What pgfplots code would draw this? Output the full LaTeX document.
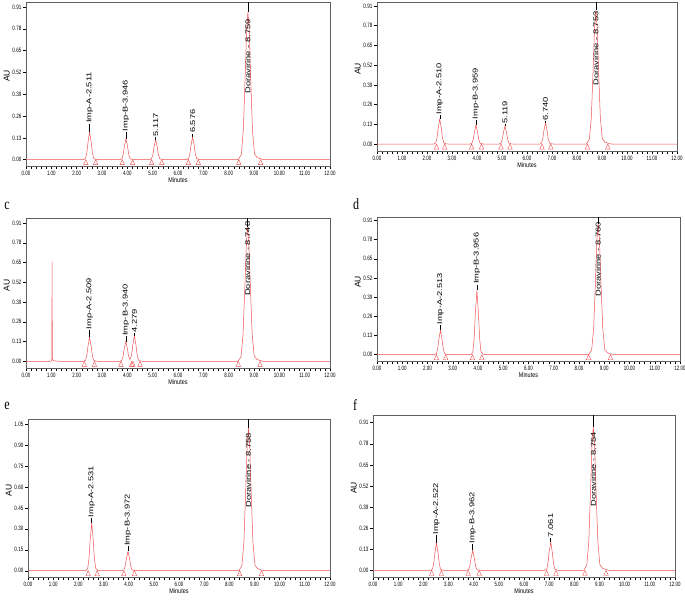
\documentclass[border=0pt]{standalone}
\usepackage{pgfplots}
\pgfplotsset{compat=1.18}
\usepackage{fontspec}
\setmainfont{Liberation Sans}
\newfontfamily\seriffont{Liberation Serif}
\definecolor{trace}{RGB}{238,80,80}
\newcommand{\pk}[4]{%
  \addplot[black,line width=0.45pt] coordinates {(#1,#2)(#1,#3)};
  \node[rotate=90,anchor=west,inner sep=0.6pt,font=\fontsize{7}{7}\selectfont] at (axis cs:#1,#3) {\scalebox{1.33}[1]{#4}};}
\pgfplotsset{chrom/.style={
  scale only axis, xmin=0, xmax=12,
  /pgf/number format/assume math mode=true,
  xtick={0,1,2,3,4,5,6,7,8,9,10,11,12}, minor x tick num=4,
  tick align=outside, xtick pos=left, ytick pos=left,
  axis line style={gray!75!black, line width=0.5pt},
  major tick length=3pt, minor tick length=2.6pt,
  every tick/.style={black, line width=0.4pt},
  ticklabel style={font=\fontsize{6.3}{6.3}\selectfont, inner sep=1.5pt},
  xticklabel={\scalebox{0.7}[1]{\pgfmathprintnumber[fixed,fixed zerofill,precision=2,assume math mode=true]{\tick}}},
  yticklabel={\scalebox{0.72}[1]{\pgfmathprintnumber[fixed,fixed zerofill,precision=2,assume math mode=true]{\tick}}},
  ytick={0,0.13,0.26,0.39,0.52,0.65,0.78,0.91},
  xlabel={\scalebox{0.8}[1]{Minutes}},
  xlabel style={font=\fontsize{6.8}{6.8}\selectfont, inner sep=1pt},
  ylabel={AU},
  ylabel style={font=\fontsize{8.5}{8.5}\selectfont, at={(ticklabel cs:0.55)}, inner sep=1pt},
  every axis plot/.append style={line width=0.5pt},
}}
\begin{document}
\begin{tikzpicture}
\useasboundingbox (0,0) rectangle (685pt,-603pt);
% ---------------- a
\begin{axis}[chrom, at={(26pt,-166pt)}, anchor=south west, width=304pt, height=164pt, ymin=-0.038, ymax=0.94]
\addplot[trace] coordinates {(0,0)
(2.271,0)(2.351,0.0074)(2.401,0.0404)(2.451,0.107)(2.511,0.165)(2.571,0.107)(2.621,0.0404)(2.671,0.0083)(2.751,0.0017)(2.831,0)
(3.706,0)(3.786,0.0056)(3.836,0.0306)(3.886,0.081)(3.946,0.125)(4.006,0.081)(4.056,0.0306)(4.106,0.0063)(4.186,0.0013)(4.266,0)
(4.877,0)(4.957,0.0054)(5.007,0.0294)(5.057,0.078)(5.117,0.12)(5.177,0.078)(5.227,0.0294)(5.277,0.006)(5.357,0.0012)(5.437,0)
(6.336,0)(6.416,0.0061)(6.466,0.0331)(6.516,0.0878)(6.576,0.135)(6.636,0.0878)(6.686,0.0331)(6.736,0.0068)(6.816,0.0014)(6.896,0)
(8.379,0)(8.499,0.0308)(8.579,0.176)(8.659,0.528)(8.709,0.774)(8.759,0.88)(8.809,0.774)(8.859,0.528)(8.939,0.176)(9.019,0.0352)(9.119,0.0132)(9.259,0.0053)(9.379,0)
(12,0)};
\addplot[only marks, mark=triangle, mark size=2.6pt, trace, mark options={line width=0.4pt, yscale=1.3}] coordinates {
(2.36,-0.02)(2.75,-0.02)(3.80,-0.02)(4.21,-0.02)(4.96,-0.02)(5.36,-0.02)(6.41,-0.02)(6.80,-0.02)(8.40,-0.02)(9.26,-0.02)};
\pk{2.511}{0.165}{0.215}{Imp-A-2.511}
\pk{3.946}{0.125}{0.165}{Imp-B-3.946}
\pk{5.117}{0.12}{0.135}{5.117}
\pk{6.576}{0.135}{0.155}{6.576}
\addplot[black,line width=0.45pt] coordinates {(8.759,0.88)(8.759,0.94)};
\node[rotate=90,anchor=west,inner sep=0.6pt,font=\fontsize{7}{7}\selectfont] at (axis cs:8.759,0.39) {\scalebox{1.33}[1]{Doravirine - 8.759}};
\end{axis}
% ---------------- b
\begin{axis}[chrom, at={(377pt,-151pt)}, anchor=south west, width=300pt, height=149pt, ymin=-0.046, ymax=0.936]
\addplot[trace] coordinates {(0,0)
(2.270,0)(2.350,0.0074)(2.400,0.0404)(2.450,0.107)(2.510,0.165)(2.570,0.107)(2.620,0.0404)(2.670,0.0083)(2.750,0.0017)(2.830,0)
(3.719,0)(3.799,0.0056)(3.849,0.0306)(3.899,0.081)(3.959,0.125)(4.019,0.081)(4.069,0.0306)(4.119,0.0063)(4.199,0.0013)(4.279,0)
(4.879,0)(4.959,0.0053)(5.009,0.0289)(5.059,0.0767)(5.119,0.118)(5.179,0.0767)(5.229,0.0289)(5.279,0.0059)(5.359,0.0012)(5.439,0)
(6.500,0)(6.580,0.0063)(6.630,0.0343)(6.680,0.091)(6.740,0.14)(6.800,0.091)(6.850,0.0343)(6.900,0.007)(6.980,0.0014)(7.060,0)
(8.373,0)(8.493,0.0308)(8.573,0.176)(8.653,0.528)(8.703,0.774)(8.753,0.88)(8.803,0.774)(8.853,0.528)(8.933,0.176)(9.013,0.0352)(9.113,0.0132)(9.253,0.0053)(9.373,0)
(12,0)};
\addplot[only marks, mark=triangle, mark size=2.6pt, trace, mark options={line width=0.4pt, yscale=1.3}] coordinates {
(2.38,-0.022)(2.71,-0.022)(3.78,-0.022)(4.18,-0.022)(4.96,-0.022)(5.32,-0.022)(6.60,-0.022)(6.95,-0.022)(8.42,-0.022)(9.23,-0.022)};
\pk{2.510}{0.165}{0.19}{Imp-A-2.510}
\pk{3.959}{0.125}{0.158}{Imp-B-3.959}
\pk{5.119}{0.118}{0.13}{5.119}
\pk{6.740}{0.14}{0.15}{6.740}
\addplot[black,line width=0.45pt] coordinates {(8.753,0.88)(8.753,0.936)};
\node[rotate=90,anchor=west,inner sep=0.6pt,font=\fontsize{7}{7}\selectfont] at (axis cs:8.753,0.38) {\scalebox{1.33}[1]{Doravirine - 8.753}};
\end{axis}
% ---------------- c
\begin{axis}[chrom, at={(26pt,-368pt)}, anchor=south west, width=304pt, height=150pt, ymin=-0.044, ymax=0.943]
\addplot[trace] coordinates {(0,0)
(0.99,0)(1.02,0.015)(1.03,0.655)(1.04,0.02)(1.07,0.005)(1.2,0.001)(1.4,0)
(2.269,0)(2.349,0.0071)(2.399,0.0385)(2.449,0.102)(2.509,0.157)(2.569,0.102)(2.619,0.0385)(2.669,0.0079)(2.749,0.0016)(2.829,0)
(3.700,0)(3.780,0.0059)(3.830,0.0319)(3.880,0.0845)(3.940,0.13)(4.000,0.0845)(4.050,0.033)(4.100,0.012)(4.140,0.028)(4.169,0.043)(4.219,0.109)(4.279,0.168)(4.339,0.109)(4.389,0.0412)(4.439,0.0084)(4.519,0.0017)(4.599,0)
(8.368,0)(8.488,0.0309)(8.568,0.177)(8.648,0.530)(8.698,0.778)(8.748,0.884)(8.798,0.778)(8.848,0.530)(8.928,0.177)(9.008,0.0354)(9.108,0.0133)(9.248,0.0053)(9.368,0)
(12,0)};
\addplot[only marks, mark=triangle, mark size=2.6pt, trace, mark options={line width=0.4pt, yscale=1.3}] coordinates {
(2.30,-0.022)(2.70,-0.022)(3.75,-0.022)(4.17,-0.022)(4.22,-0.022)(4.50,-0.022)(8.38,-0.022)(9.24,-0.022)};
\pk{2.509}{0.157}{0.207}{Imp-A-2.509}
\pk{3.940}{0.13}{0.164}{Imp-B-3.940}
\pk{4.279}{0.168}{0.186}{4.279}
\addplot[black,line width=0.45pt] coordinates {(8.748,0.884)(8.748,0.943)};
\node[rotate=90,anchor=west,inner sep=0.6pt,font=\fontsize{7}{7}\selectfont] at (axis cs:8.748,0.426) {\scalebox{1.33}[1]{Doravirine - 8.748}};
\end{axis}
% ---------------- d
\begin{axis}[chrom, at={(377pt,-361pt)}, anchor=south west, width=303pt, height=144pt, ymin=-0.043, ymax=0.933]
\addplot[trace] coordinates {(0,0)
(2.273,0)(2.353,0.0074)(2.403,0.0404)(2.453,0.107)(2.513,0.165)(2.573,0.107)(2.623,0.0404)(2.673,0.0083)(2.753,0.0017)(2.833,0)
(3.716,0)(3.796,0.0196)(3.846,0.107)(3.896,0.283)(3.956,0.436)(4.016,0.283)(4.066,0.107)(4.116,0.0218)(4.196,0.0044)(4.276,0)
(8.380,0)(8.500,0.031)(8.580,0.177)(8.660,0.532)(8.710,0.781)(8.760,0.887)(8.810,0.781)(8.860,0.532)(8.940,0.177)(9.020,0.0355)(9.120,0.0133)(9.260,0.0053)(9.380,0)
(12,0)};
\addplot[only marks, mark=triangle, mark size=2.6pt, trace, mark options={line width=0.4pt, yscale=1.3}] coordinates {
(2.35,-0.023)(2.72,-0.023)(3.78,-0.023)(4.15,-0.023)(8.38,-0.023)(9.25,-0.023)};
\pk{2.513}{0.165}{0.2}{Imp-A-2.513}
\pk{3.956}{0.436}{0.474}{Imp-B-3.956}
\addplot[black,line width=0.45pt] coordinates {(8.760,0.887)(8.760,0.933)};
\node[rotate=90,anchor=west,inner sep=0.6pt,font=\fontsize{7}{7}\selectfont] at (axis cs:8.760,0.39) {\scalebox{1.33}[1]{Doravirine - 8.760}};
\end{axis}
% ---------------- e
\begin{axis}[chrom, at={(28pt,-577pt)}, anchor=south west, width=302pt, height=158pt, ymin=-0.045, ymax=1.086,
  ytick={0,0.15,0.30,0.45,0.60,0.75,0.90,1.05}]
\addplot[trace] coordinates {(0,0)
(2.291,0)(2.371,0.0153)(2.421,0.0835)(2.471,0.222)(2.531,0.341)(2.591,0.222)(2.641,0.0835)(2.691,0.0171)(2.771,0.0034)(2.851,0)
(3.732,0)(3.812,0.0062)(3.862,0.0338)(3.912,0.0897)(3.972,0.138)(4.032,0.0897)(4.082,0.0338)(4.132,0.0069)(4.212,0.0014)(4.292,0)
(8.378,0)(8.498,0.0357)(8.578,0.204)(8.658,0.612)(8.708,0.898)(8.758,1.02)(8.808,0.898)(8.858,0.612)(8.938,0.204)(9.018,0.0408)(9.118,0.0153)(9.258,0.0061)(9.378,0)
(12,0)};
\addplot[only marks, mark=triangle, mark size=2.6pt, trace, mark options={line width=0.4pt, yscale=1.3}] coordinates {
(2.39,-0.024)(2.75,-0.024)(3.81,-0.024)(4.23,-0.024)(8.41,-0.024)(9.28,-0.024)};
\pk{2.531}{0.341}{0.377}{Imp-A-2.531}
\pk{3.972}{0.138}{0.174}{Imp-B-3.972}
\addplot[black,line width=0.45pt] coordinates {(8.758,1.02)(8.758,1.086)};
\node[rotate=90,anchor=west,inner sep=0.6pt,font=\fontsize{7}{7}\selectfont] at (axis cs:8.758,0.449) {\scalebox{1.33}[1]{Doravirine - 8.758}};
\end{axis}
% ---------------- f
\begin{axis}[chrom, at={(373pt,-577pt)}, anchor=south west, width=302pt, height=162pt, ymin=-0.041, ymax=0.957]
\addplot[trace] coordinates {(0,0)
(2.282,0)(2.362,0.0076)(2.412,0.0414)(2.462,0.110)(2.522,0.169)(2.582,0.110)(2.632,0.0414)(2.682,0.0085)(2.762,0.0017)(2.842,0)
(3.722,0)(3.802,0.0055)(3.852,0.0301)(3.902,0.080)(3.962,0.123)(4.022,0.080)(4.072,0.0301)(4.122,0.0062)(4.202,0.0012)(4.282,0)
(6.821,0)(6.901,0.0079)(6.951,0.0429)(7.001,0.114)(7.061,0.175)(7.121,0.114)(7.171,0.0429)(7.221,0.0088)(7.301,0.0018)(7.381,0)
(8.374,0)(8.494,0.031)(8.574,0.177)(8.654,0.531)(8.704,0.779)(8.754,0.885)(8.804,0.779)(8.854,0.531)(8.934,0.177)(9.014,0.0354)(9.114,0.0133)(9.254,0.0053)(9.374,0)
(12,0)};
\addplot[only marks, mark=triangle, mark size=2.6pt, trace, mark options={line width=0.4pt, yscale=1.3}] coordinates {
(2.33,-0.021)(2.72,-0.021)(3.78,-0.021)(4.22,-0.021)(6.90,-0.021)(7.27,-0.021)(8.42,-0.021)(9.26,-0.021)};
\pk{2.522}{0.169}{0.216}{Imp-A-2.522}
\pk{3.962}{0.123}{0.16}{Imp-B-3.962}
\pk{7.061}{0.175}{0.2}{7.061}
\addplot[black,line width=0.45pt] coordinates {(8.754,0.885)(8.754,0.957)};
\node[rotate=90,anchor=west,inner sep=0.6pt,font=\fontsize{7}{7}\selectfont] at (axis cs:8.754,0.39) {\scalebox{1.33}[1]{Doravirine - 8.754}};
\end{axis}
% panel letters
\node[font=\seriffont\fontsize{12}{12}\selectfont] at (7pt,-206pt) {\scalebox{1}[1.3]{c}};
\node[font=\seriffont\fontsize{12}{12}\selectfont] at (356pt,-204pt) {\scalebox{1}[1.3]{d}};
\node[font=\seriffont\fontsize{12}{12}\selectfont] at (7pt,-406pt) {\scalebox{1}[1.3]{e}};
\node[font=\seriffont\fontsize{12}{12}\selectfont] at (355pt,-405pt) {\scalebox{1}[1.3]{f}};
\end{tikzpicture}
\end{document}
